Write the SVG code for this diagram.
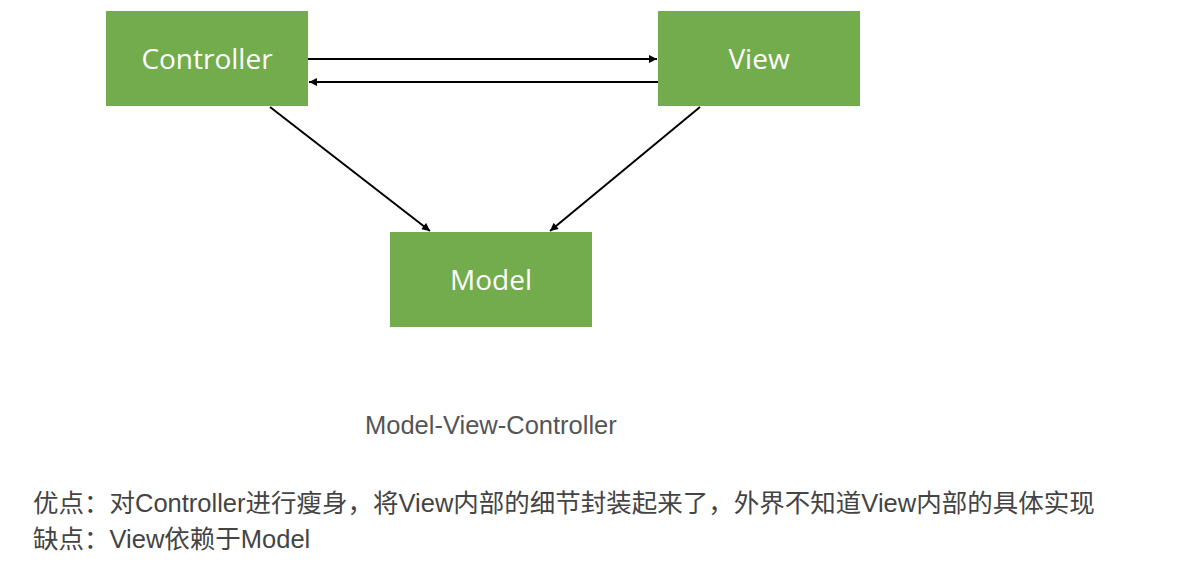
<svg xmlns="http://www.w3.org/2000/svg" width="1200" height="570" viewBox="0 0 1200 570">
<style>
.box{fill:#72ac4d}
.lbl{font-family:"Open Sans","Noto Sans",sans-serif;font-size:28px;fill:#ffffff;text-anchor:middle}
.edge{stroke:#000;stroke-width:2;fill:none}
.cap{font-family:"Liberation Sans","Noto Sans CJK SC",sans-serif;font-size:25.5px;fill:#555555}
.note{font-family:"Liberation Sans","Noto Sans CJK SC",sans-serif;font-size:25.5px;fill:#444444}
</style>
<defs>
<marker id="ah" viewBox="0 0 10 10" refX="10" refY="5" markerWidth="9" markerHeight="8" markerUnits="userSpaceOnUse" orient="auto"><path d="M0,0 L10,5 L0,10 z" fill="#000"/></marker>
</defs>
<rect width="1200" height="570" fill="#fff"/>
<g id="controller"><rect class="box" x="106" y="11" width="202" height="95"/><text class="lbl" x="207" y="69">Controller</text></g>
<g id="view"><rect class="box" x="658" y="11" width="202" height="95"/><text class="lbl" x="759" y="69">View</text></g>
<g id="model"><rect class="box" x="390" y="232" width="202" height="95"/><text class="lbl" x="491" y="290">Model</text></g>
<g id="connectors">
<line class="edge" x1="308" y1="59" x2="657" y2="59" marker-end="url(#ah)"/>
<line class="edge" x1="658" y1="82" x2="309" y2="82" marker-end="url(#ah)"/>
<line class="edge" x1="270" y1="107" x2="430" y2="231" marker-end="url(#ah)"/>
<line class="edge" x1="700" y1="107" x2="550" y2="231" marker-end="url(#ah)"/>
</g>
<text class="cap" x="365" y="434">Model-View-Controller</text>
<text class="note" x="33" y="512">优点：对Controller进行瘦身，将View内部的细节封装起来了，外界不知道View内部的具体实现</text>
<text class="note" x="33" y="548">缺点：View依赖于Model</text>
</svg>
